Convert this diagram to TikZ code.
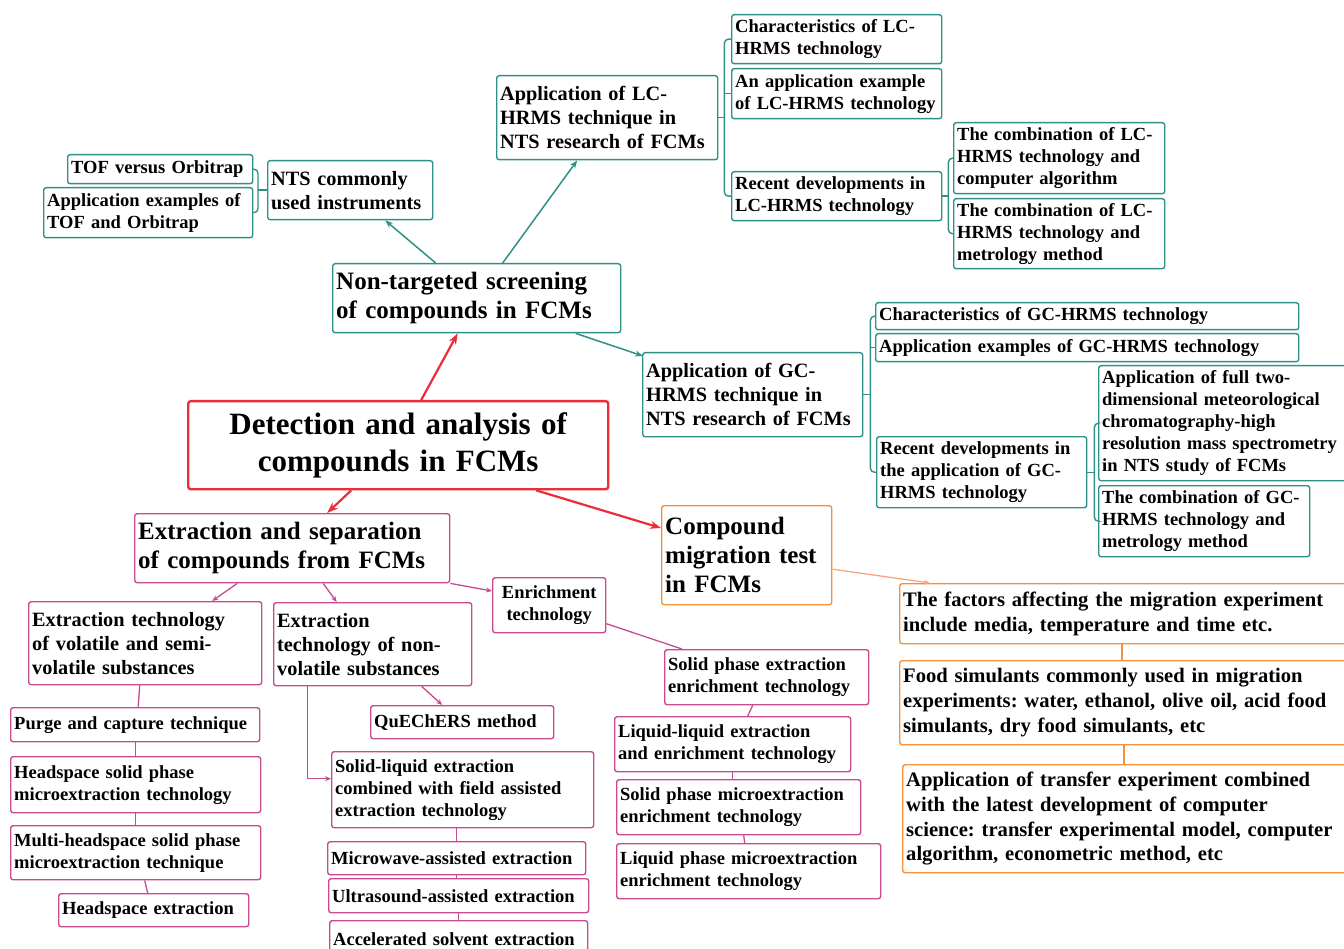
\documentclass[tikz,border=0pt]{standalone}
\usepackage{fontspec}
\setmainfont{Liberation Serif}
\usetikzlibrary{arrows.meta,calc}
\definecolor{tealb}{RGB}{45,145,135}
\definecolor{pinkb}{RGB}{200,75,145}
\definecolor{orangeb}{RGB}{245,145,60}
\definecolor{redb}{RGB}{235,45,55}
\definecolor{orangel}{RGB}{250,165,130}
\frenchspacing

\begin{document}
\begin{tikzpicture}[
  x=1pt, y=-1pt,
  >=Stealth,
  box/.style={draw, fill=white, rounded corners=2.5pt, line width=1.4pt, anchor=north west, align=left, inner xsep=3.5pt, inner ysep=1pt},
  tbox/.style={box, draw=tealb},
  pbox/.style={box, draw=pinkb},
  obox/.style={box, draw=orangeb},
  rbox/.style={box, draw=redb, line width=2.4pt},
  fa/.style={font=\bfseries\fontsize{18.5}{22}\selectfont},
  fb/.style={font=\bfseries\fontsize{20.3}{24}\selectfont},
  fc/.style={font=\bfseries\fontsize{20.6}{24.8}\selectfont},
  fd/.style={font=\bfseries\fontsize{25}{29}\selectfont},
  fe/.style={font=\bfseries\fontsize{31}{37}\selectfont},
  tarr/.style={->, tealb, line width=1.5pt, >={Stealth[length=8pt,width=6pt]}},
  brk/.style={tealb, line width=1.4pt, rounded corners=4pt},
  rarr/.style={->, redb, line width=2.2pt, >={Stealth[length=11pt,width=8pt]}},
  parr/.style={->, pinkb, line width=1.3pt, >={Stealth[length=6pt,width=5pt]}},
  pline/.style={pinkb, line width=1.3pt},
  oline/.style={orangeb, line width=1.3pt},
]
\useasboundingbox (0,0) rectangle (1344,949);

% Centre
\node[rbox, fe, align=center, text width=413pt, minimum height=88pt] (main) at (187,400) {Detection and analysis of\\compounds in FCMs};

% Non-targeted screening branch
\node[tbox, fd, text width=281pt, minimum height=69pt] (nt) at (332,263) {Non-targeted screening\\of compounds in FCMs};
\node[tbox, fb, text width=158pt, minimum height=59pt] (nts) at (267,160) {NTS commonly\\used instruments};
\node[tbox, fa, text width=178pt, minimum height=29pt] (tof) at (67,154) {TOF versus Orbitrap};
\node[tbox, fa, text width=202pt, minimum height=50pt] (tofapp) at (43,187) {Application examples of\\TOF and Orbitrap};

\node[tbox, fb, text width=214pt, minimum height=84pt] (lcapp) at (496,75) {Application of LC-\\HRMS technique in\\NTS research of FCMs};
\node[tbox, fa, text width=203pt, minimum height=49pt] (lcchar) at (731,14) {Characteristics of LC-\\HRMS technology};
\node[tbox, fa, text width=203pt, minimum height=50pt] (lcex) at (731,68) {An application example\\of LC-HRMS technology};
\node[tbox, fa, text width=203pt, minimum height=49pt] (lcrec) at (731,171) {Recent developments in\\LC-HRMS technology};
\node[tbox, fa, text width=204pt, minimum height=71pt] (lcalg) at (953,122) {The combination of LC-\\HRMS technology and\\computer algorithm};
\node[tbox, fa, text width=204pt, minimum height=70pt] (lcmet) at (953,198) {The combination of LC-\\HRMS technology and\\metrology method};

\node[tbox, fb, text width=213pt, minimum height=84pt] (gcapp) at (642,352) {Application of GC-\\HRMS technique in\\NTS research of FCMs};
\node[tbox, fa, text width=416pt, minimum height=27pt] (gcchar) at (875,302) {Characteristics of GC-HRMS technology};
\node[tbox, fa, text width=416pt, minimum height=28pt] (gcex) at (875,333) {Application examples of GC-HRMS technology};
\node[tbox, fa, text width=203pt, minimum height=71pt] (gcrec) at (876,436) {Recent developments in\\the application of GC-\\HRMS technology};
\node[tbox, fa, text width=253pt, minimum height=115pt] (gcfull) at (1098,365) {Application of full two-\\dimensional meteorological\\chromatography-high\\resolution mass spectrometry\\in NTS study of FCMs};
\node[tbox, fa, text width=204pt, minimum height=71pt] (gcmet) at (1098,485) {The combination of GC-\\HRMS technology and\\metrology method};

% Migration branch
\node[obox, fd, text width=163pt, minimum height=99pt] (mig) at (661,505) {Compound\\migration test\\in FCMs};
\node[obox, fc, text width=453pt, minimum height=60pt] (fac) at (899,583) {The factors affecting the migration experiment\\include media, temperature and time etc.};
\node[obox, fc, text width=453pt, minimum height=84pt] (food) at (899,660) {Food simulants commonly used in migration\\experiments: water, ethanol, olive oil, acid food\\simulants, dry food simulants, etc};
\node[obox, fc, text width=453pt, minimum height=108pt] (trans) at (902,764) {Application of transfer experiment combined\\with the latest development of computer\\science: transfer experimental model, computer\\algorithm, econometric method, etc};

% Extraction branch
\node[pbox, fd, text width=308pt, minimum height=69pt] (ext) at (134,513) {Extraction and separation\\of compounds from FCMs};
\node[pbox, fb, text width=226pt, minimum height=83pt] (vol) at (28,601) {Extraction technology\\of volatile and semi-\\volatile substances};
\node[pbox, fb, text width=191pt, minimum height=83pt] (nonvol) at (273,602) {Extraction\\technology of non-\\volatile substances};
\node[pbox, fa, align=center, text width=106pt, minimum height=55pt] (enr) at (492,577) {Enrichment\\technology};

\node[pbox, fa, text width=242pt, minimum height=34pt] (purge) at (10,707) {Purge and capture technique};
\node[pbox, fa, text width=243pt, minimum height=56pt] (hs) at (10,756) {Headspace solid phase\\microextraction technology};
\node[pbox, fa, text width=243pt, minimum height=54pt] (mhs) at (10,825) {Multi-headspace solid phase\\microextraction technique};
\node[pbox, fa, text width=183pt, minimum height=33pt] (hse) at (58,893) {Headspace extraction};

\node[pbox, fa, text width=176pt, minimum height=33pt] (que) at (370,705) {QuEChERS method};
\node[pbox, fa, text width=255pt, minimum height=76pt] (sle) at (331,751) {Solid-liquid extraction\\combined with field assisted\\extraction technology};
\node[pbox, fa, text width=251pt, minimum height=33pt] (mw) at (327,841) {Microwave-assisted extraction};
\node[pbox, fa, text width=253pt, minimum height=34pt] (us) at (328,878) {Ultrasound-assisted extraction};
\node[pbox, fa, text width=251pt, minimum height=36pt] (ase) at (329,920) {Accelerated solvent extraction};

\node[pbox, fa, text width=197pt, minimum height=55pt] (spe) at (664,649) {Solid phase extraction\\enrichment technology};
\node[pbox, fa, text width=229pt, minimum height=55pt] (lle) at (614,716) {Liquid-liquid extraction\\and enrichment technology};
\node[pbox, fa, text width=237pt, minimum height=55pt] (spme) at (616,779) {Solid phase microextraction\\enrichment technology};
\node[pbox, fa, text width=257pt, minimum height=55pt] (lpme) at (616,843) {Liquid phase microextraction\\enrichment technology};

% Red arrows from the centre
\draw[rarr] ($(main.north)+(23,0)$) -- ($(nt.south)+(-19,0)$);
\draw[rarr] ($(main.south)+(-47,0)$) -- ($(ext.north)+(35,0)$);
\draw[rarr] ($(main.south)+(138,0)$) -- ($(mig.north west)+(0,23)$);

% Teal arrows and brackets
\draw[tarr] ($(nt.north)+(-41,0)$) -- ($(nts.south)+(35,0)$);
\draw[tarr] ($(nt.north)+(26,0)$) -- ($(lcapp.south)+(-30,0)$);
\draw[tarr] ($(nt.south)+(99,0)$) -- ($(gcapp.north west)+(1,4)$);

\coordinate (bt) at ($(nts.west)+(-9,0)$);
\draw[brk] (tof.east) -| (bt) |- (tofapp.east);
\draw[brk] (bt) -- (nts.west);

\coordinate (blc) at ($(lcapp.east)+(6,0)$);
\draw[brk] (lcchar.west) -| (blc) |- (lcrec.west);
\draw[brk] (lcapp.east) -- (blc);
\draw[brk] (lcex.west) -- (lcex.west -| blc);

\coordinate (blr) at ($(lcrec.east)+(6,0)$);
\draw[brk] (lcalg.west) -| (blr) |- (lcmet.west);
\draw[brk] (lcrec.east) -- (blr);

\coordinate (bgc) at ($(gcapp.east)+(7,0)$);
\draw[brk] (gcchar.west) -| (bgc) |- (gcrec.west);
\draw[brk] (gcapp.east) -- (bgc);
\draw[brk] (gcex.west) -- (gcex.west -| bgc);

\coordinate (bgr) at ($(gcrec.east)+(7,0)$);
\draw[brk] (gcfull.west) -| (bgr) |- (gcmet.west);
\draw[brk] (gcrec.east) -- (bgr);

% Orange links
\draw[->, orangel, line width=1.3pt, >={Stealth[length=6pt,width=5pt]}] ($(mig.east)+(0,14)$) -- ($(fac.north west)+(31,0)$);
\draw[oline] ($(fac.south west)+(223,0)$) -- ($(food.north west)+(223,0)$);
\draw[oline] ($(food.south west)+(225,0)$) -- ($(trans.north west)+(222,0)$);

% Pink links
\draw[parr] ($(ext.south)+(-55,0)$) -- ($(vol.north)+(67,0)$);
\draw[parr] ($(ext.south)+(31,0)$) -- ($(nonvol.north)+(-36,0)$);
\draw[parr] (ext.south east) -- ($(enr.north west)+(0,14)$);

\draw[pline] ($(vol.south)+(-5.5,0)$) -- ($(purge.north)+(3,0)$);
\draw[pline] (purge.south) -- (purge.south |- hs.north);
\draw[pline] (hs.south) -- (hs.south |- mhs.north);
\draw[pline] ($(mhs.south)+(9,0)$) -- ($(hse.north)+(-6,0)$);

\draw[parr] ($(nonvol.south)+(49,0)$) -- ($(que.north)+(-20,0)$);
\draw[parr] ($(nonvol.south west)+(34.5,0)$) |- ($(sle.west)+(0,-11)$);
\draw[pline] (mw.north |- sle.south) -- (mw.north);
\draw[pline] (mw.south) -- (mw.south |- us.north);
\draw[pline] (us.south) -- (us.south |- ase.north);

\draw[pline] ($(enr.east)+(0,18.5)$) -- ($(spe.north west)+(18,0)$);
\draw[pline] ($(spe.south)+(-14,0)$) -- ($(lle.north)+(15,0)$);
\draw[pline] (lle.south) -- (lle.south |- spme.north);
\draw[pline] ($(spme.south)+(5,0)$) -- ($(lpme.north)+(-4,0)$);

\end{tikzpicture}
\end{document}
